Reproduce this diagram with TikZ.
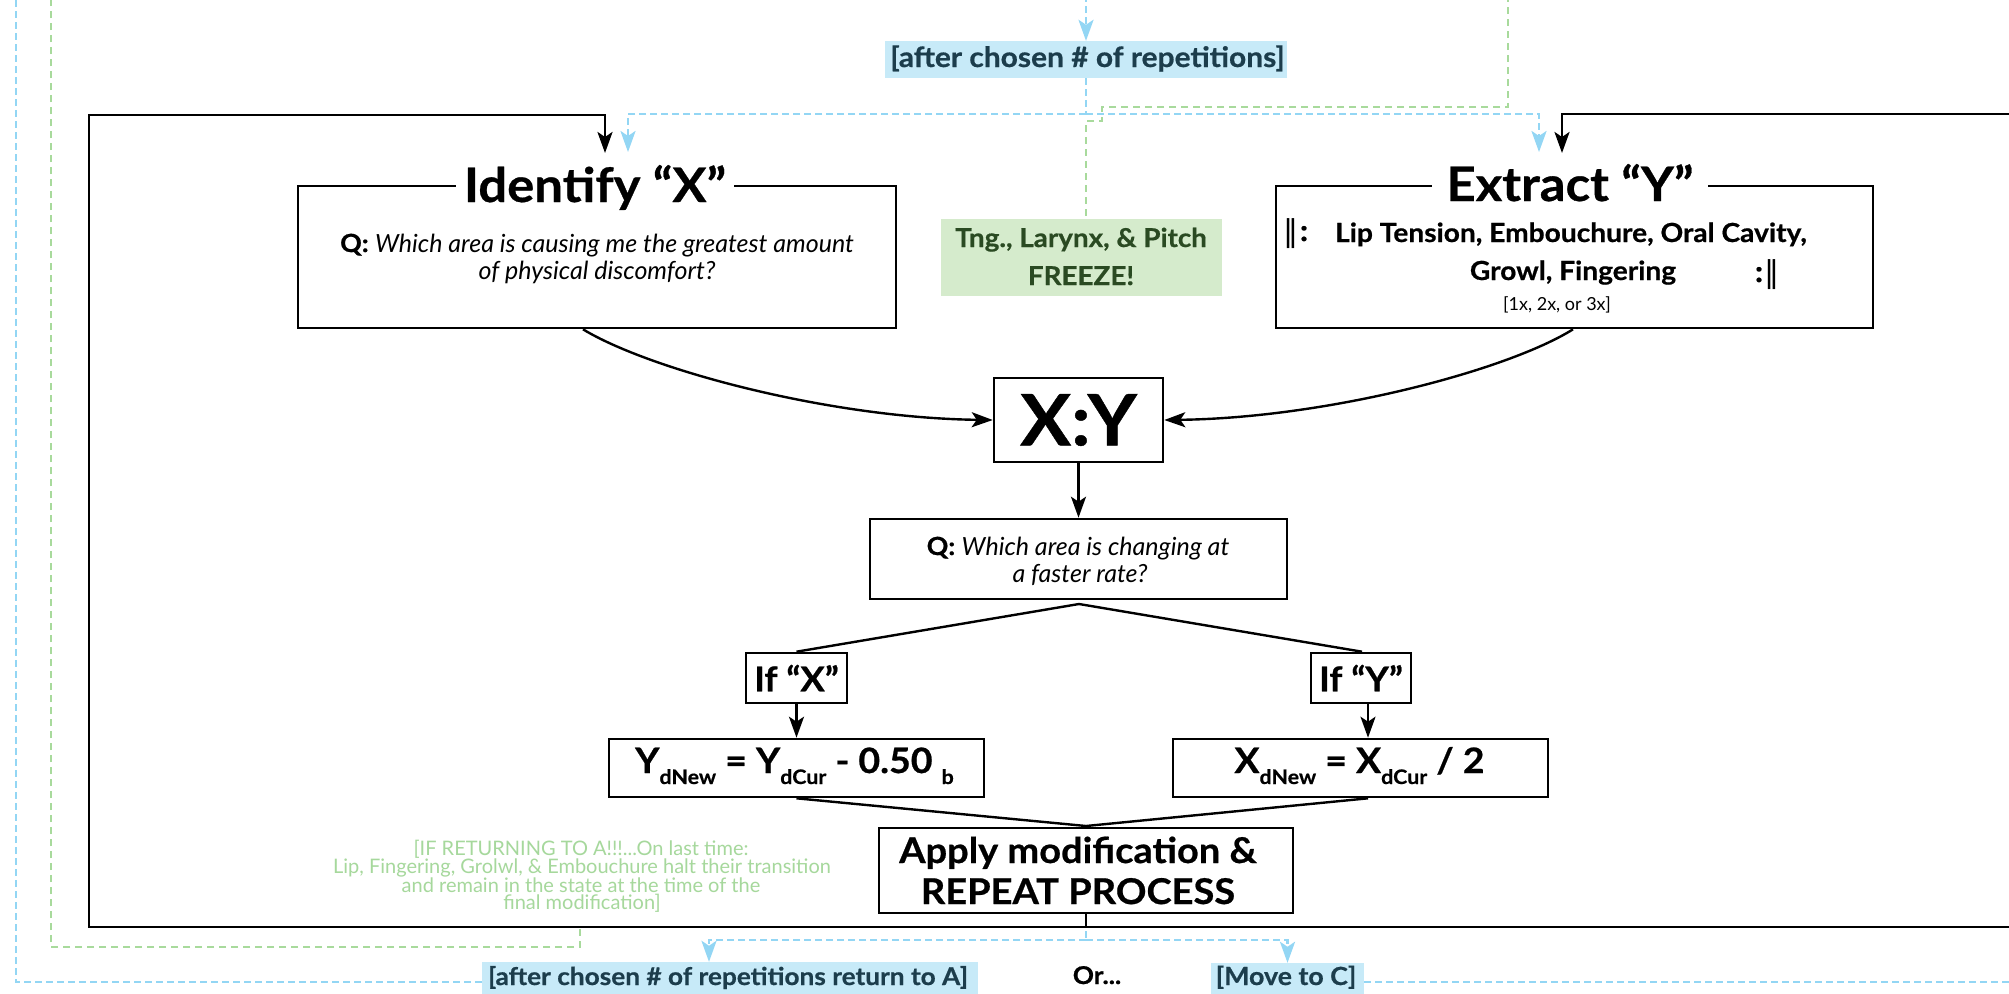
\documentclass[tikz,border=0pt]{standalone}
\usepackage{fontspec}
\setmainfont{Lato}[BoldFeatures={FakeStretch=1.07,FakeBold=0.6}]
\newfontfamily\barfont{DejaVu Sans}
\usetikzlibrary{arrows.meta}

\definecolor{repline}{HTML}{93D6F4}
\definecolor{repfill}{HTML}{C7EAF8}
\definecolor{reptext}{HTML}{1C3D4C}
\definecolor{frzline}{HTML}{A8DA9C}
\definecolor{frzfill}{HTML}{D5EBCC}
\definecolor{frztext}{HTML}{2A4A22}
\definecolor{notetext}{HTML}{A6D89C}

\newcommand\fsz[2]{\fontsize{#1pt}{#2pt}\selectfont}
\newcommand\lowtag[1]{\raisebox{-11pt}{\fsz{20}{20}#1}}

\tikzset{
  box/.style={draw=black, line width=2.6pt, inner sep=0pt},
  lbl/.style={inner sep=0pt, anchor=base},
  plainline/.style={line width=2.4pt},
  conn/.style={line width=2.4pt, -{Stealth[length=21pt,width=15pt,inset=5pt]}},
  repdash/.style={draw=repline, line width=2.6pt, dash pattern=on 7pt off 4pt},
  reparrow/.style={repdash, -{Stealth[length=21pt,width=15pt,inset=5pt,fill=repline]}},
  frzdash/.style={draw=frzline, line width=2.6pt, dash pattern=on 7pt off 5pt},
}

\begin{document}
\begin{tikzpicture}[x=1pt,y=-1pt]
\clip (0,0) rectangle (2009,993);
\fill[white] (0,0) rectangle (2009,993);

% ---- the two input boxes ----
\node[box, minimum width=598pt, minimum height=142pt] (idbox) at (597,257) {};
\node[box, minimum width=597pt, minimum height=142pt] (exbox) at (1574.5,257) {};
\node[lbl, fill=white, inner xsep=8pt, inner ysep=3pt, font=\fsz{47.5}{50}\bfseries] (idtitle) at (595,202) {Identify “X”};
\node[lbl, fill=white, inner xsep=14pt, inner ysep=3pt, font=\fsz{47.5}{50}\bfseries] (extitle) at (1570,201) {Extract “Y”};

\node[lbl, font=\fsz{25}{27}] (idq1) at (597,252) {\textbf{Q:} \textit{Which area is causing me the greatest amount}};
\node[lbl, font=\fsz{25}{27}] (idq2) at (597,279) {\textit{of physical discomfort?}};

\node[lbl, font=\fsz{30}{30}] (rep1) at (1296,241) {{\barfont ‖}\kern1pt\textbf{:}};
\node[lbl, font=\fsz{26.3}{28}\bfseries] (ex1) at (1571,242) {Lip Tension, Embouchure, Oral Cavity,};
\node[lbl, font=\fsz{26.3}{28}\bfseries] (ex2) at (1573,280) {Growl, Fingering};
\node[lbl, font=\fsz{30}{30}] (rep2) at (1767,282) {\textbf{:}\kern1pt{\barfont ‖}};
\node[lbl, font=\fsz{18}{18}] (ex3) at (1557,310) {[1x, 2x, or 3x]};

% ---- freeze note ----
\node[fill=frzfill, inner sep=0pt, minimum width=281pt, minimum height=77pt] (freeze) at (1081.5,257.5) {};
\node[lbl, text=frztext, font=\fsz{26}{26}\bfseries] (frz1) at (1081,247) {Tng., Larynx, \& Pitch};
\node[lbl, text=frztext, font=\fsz{26}{26}\bfseries] (frz2) at (1081,285) {FREEZE!};

% ---- ratio and decision ----
\node[box, minimum width=169pt, minimum height=84pt, font=\fsz{71}{71}\bfseries] (xy) at (1078.5,420) {X:Y};

\node[box, minimum width=417pt, minimum height=80pt] (qbox) at (1078.5,559) {};
\node[lbl, font=\fsz{25}{27}] (qq1) at (1078,555) {\textbf{Q:} \textit{Which area is changing at}};
\node[lbl, font=\fsz{25}{27}] (qq2) at (1080,582) {\textit{a faster rate?}};

\node[box, minimum width=101pt, minimum height=50pt, font=\fsz{34}{34}\bfseries] (ifx) at (796.5,678) {If “X”};
\node[box, minimum width=100pt, minimum height=50pt, font=\fsz{34}{34}\bfseries] (ify) at (1361,678) {If “Y”};

\node[box, minimum width=375pt, minimum height=58pt] (fy) at (796.5,768) {};
\node[lbl, font=\fsz{35}{35}\bfseries] (fytext) at (794.5,773) {Y\lowtag{dNew} = Y\lowtag{dCur} - 0.50 \lowtag{b}};
\node[box, minimum width=375pt, minimum height=58pt] (fx) at (1360.5,768) {};
\node[lbl, font=\fsz{35}{35}\bfseries] (fxtext) at (1359.5,773) {X\lowtag{dNew} = X\lowtag{dCur} / 2};

\node[box, minimum width=414pt, minimum height=85pt] (apply) at (1086,870.5) {};
\node[lbl, font=\fsz{35.5}{36}\bfseries] (ap1) at (1078,863) {Apply modification \&};
\node[lbl, font=\fsz{35.5}{36}\bfseries] (ap2) at (1078,904) {REPEAT PROCESS};

% ---- connectors inside the loop ----
\draw[conn] ([xshift=-14pt]idbox.south) .. controls (650,370) and (830,418) .. (xy.west);
\draw[conn] ([xshift=-1.5pt]exbox.south) .. controls (1508,370) and (1328,418) .. (xy.east);
\draw[conn] (xy.south) -- (qbox.north);

\coordinate (qapex) at (1079,604);
\draw[plainline] (ifx.north) -- (qapex) -- ([xshift=1pt]ify.north);
\draw[conn] (ifx.south) -- (fy.north);
\draw[conn] ([xshift=7pt]ify.south) -- ([xshift=7.5pt]fx.north);

\coordinate (apapex) at (1086,826);
\draw[plainline] (fy.south) -- (apapex) -- ([xshift=7.5pt]fx.south);

% ---- the repeat loop frame ----
\coordinate (fb) at (1086,927);
\coordinate (idin) at (605,153);
\coordinate (exin) at (1562,153);
\draw[plainline] (apply.south) -- (fb);
\draw[conn, line width=2.8pt] (fb) -- (89,927) -- (89,115) -- (605,115) -- (idin);
\draw[conn, line width=2.8pt] (fb) -- (2040,927) -- (2040,114) -- (1562,114) -- (exin);

% ---- repetition counter (top) ----
\node[fill=repfill, inner sep=0pt, minimum width=402pt, minimum height=37pt] (toprep) at (1086,59.5) {};
\node[lbl, text=reptext, font=\fsz{28}{28}\bfseries] (toptext) at (1087.5,67) {[after chosen \# of repetitions]};
\coordinate (topin) at (1086,-5);
\draw[reparrow] (topin) -- (toprep.north);
\coordinate (bj) at (1086,114);
\draw[repdash] (toprep.south) -- (bj);
\draw[reparrow] (bj) -| (628,152);
\draw[reparrow] (bj) -| (1539,152);

% ---- freeze feed ----
\coordinate (frzin) at (1508,-5);
\draw[frzdash] (frzin) -- (1508,107) -- (1102,107) -- (1102,121) -- (1086,121) -- (1086,219);

% ---- exit paths (bottom) ----
\node[fill=repfill, inner sep=0pt, minimum width=496pt, minimum height=40pt] (retA) at (730,982) {};
\node[lbl, text=reptext, font=\fsz{24.5}{25}\bfseries] (retAtext) at (728,985) {[after chosen \# of repetitions return to A]};
\node[fill=repfill, inner sep=0pt, minimum width=153pt, minimum height=38pt] (moveC) at (1287.5,982) {};
\node[lbl, text=reptext, font=\fsz{25}{25}\bfseries] (moveCtext) at (1286,985) {[Move to C]};
\node[lbl, font=\fsz{24.5}{24.5}\bfseries] (orlbl) at (1097,984) {Or...};

\coordinate (bb) at (1086,940);
\draw[repdash] (1086,931) -- (bb);
\draw[reparrow] (bb) -| ([xshift=-21pt]retA.north);
\draw[reparrow] (bb) -| (moveC.north);
\draw[repdash] (moveC.east) -- (2040,982);
\draw[repdash] (retA.west) -- (16,982) -- (16,-5);

\coordinate (gb) at (580,929);
\draw[frzdash] (gb) -- (580,947) -- (51,947) -- (51,-5);

% ---- last-pass note ----
\node[lbl, text=notetext, font=\fsz{20}{20}] (n1) at (581,855) {[IF RETURNING TO A!!!...On last time:};
\node[lbl, text=notetext, font=\fsz{20}{20}] (n2) at (582,873) {Lip, Fingering, Grolwl, \& Embouchure halt their transition};
\node[lbl, text=notetext, font=\fsz{20}{20}] (n3) at (581,892) {and remain in the state at the time of the};
\node[lbl, text=notetext, font=\fsz{20}{20}] (n4) at (582,909) {final modification]};
\end{tikzpicture}
\end{document}
